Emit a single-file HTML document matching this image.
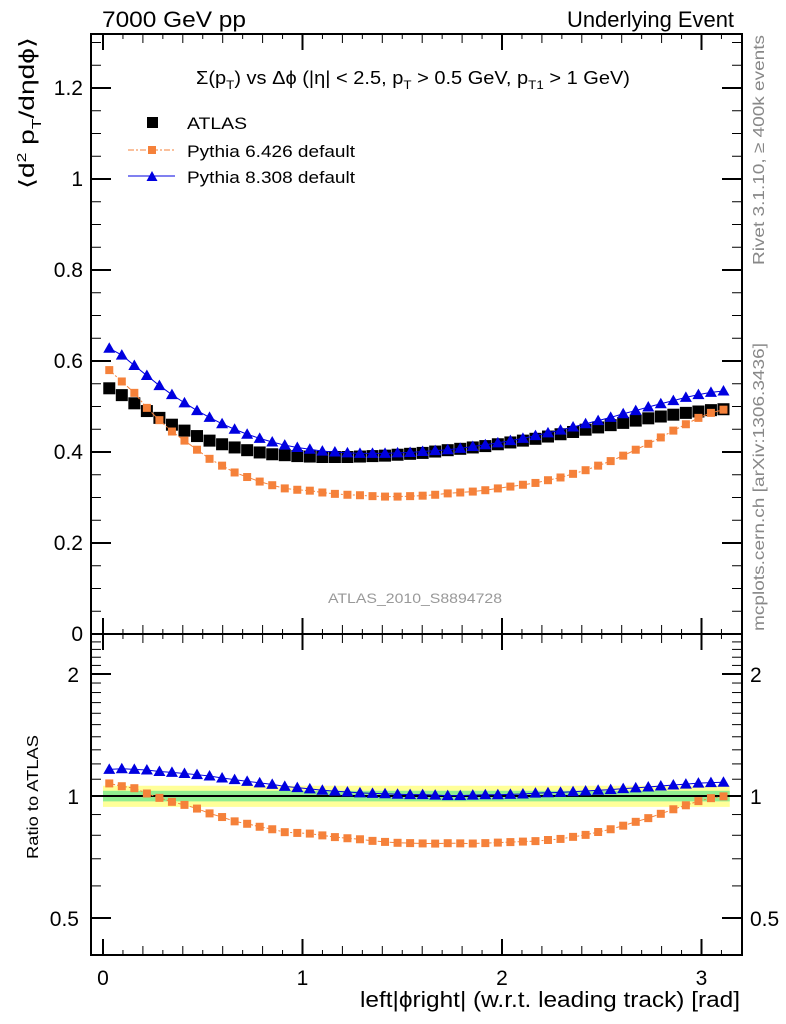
<!DOCTYPE html>
<html><head><meta charset="utf-8"><style>
html,body{margin:0;padding:0;background:#fff;}
svg{display:block;font-family:"Liberation Sans",sans-serif;}
</style></head><body>
<svg id="c" width="786" height="1024" viewBox="0 0 786 1024" xmlns="http://www.w3.org/2000/svg">
<text x="102" y="27" font-size="22" textLength="144" lengthAdjust="spacingAndGlyphs">7000 GeV pp</text>
<text x="567" y="27" font-size="22" textLength="167" lengthAdjust="spacingAndGlyphs">Underlying Event</text>
<text x="196" y="84" font-size="18" textLength="434" lengthAdjust="spacingAndGlyphs">Σ(p<tspan font-size="12" dy="5">T</tspan><tspan dy="-5">) vs Δϕ (|η| &lt; 2.5, p</tspan><tspan font-size="12" dy="5">T</tspan><tspan dy="-5"> &gt; 0.5 GeV, p</tspan><tspan font-size="12" dy="5">T1</tspan><tspan dy="-5"> &gt; 1 GeV)</tspan></text>
<text transform="translate(34,113) rotate(-90)" font-size="21" text-anchor="middle" textLength="152" lengthAdjust="spacingAndGlyphs">⟨d<tspan font-size="13" dy="-8">2</tspan><tspan dy="8"> p</tspan><tspan font-size="13" dy="7">T</tspan><tspan dy="-7">/dηdϕ⟩</tspan></text>
<text transform="translate(764,150) rotate(-90)" font-size="16" fill="#888" text-anchor="middle" textLength="230" lengthAdjust="spacingAndGlyphs">Rivet 3.1.10, ≥ 400k events</text>
<text transform="translate(764,487) rotate(-90)" font-size="16" fill="#888" text-anchor="middle" textLength="288" lengthAdjust="spacingAndGlyphs">mcplots.cern.ch [arXiv:1306.3436]</text>
<text x="415" y="603" font-size="14" fill="#999" text-anchor="middle" textLength="174" lengthAdjust="spacingAndGlyphs">ATLAS_2010_S8894728</text>
<text transform="translate(38,797) rotate(-90)" font-size="16" text-anchor="middle" textLength="124" lengthAdjust="spacingAndGlyphs">Ratio to ATLAS</text>
<text x="360" y="1007" font-size="22" textLength="380" lengthAdjust="spacingAndGlyphs">left|ϕright| (w.r.t. leading track) [rad]</text>
<g id="legend">
<rect x="147" y="117" width="11" height="11" fill="#000"/>
<text x="187" y="129" font-size="17" textLength="60" lengthAdjust="spacingAndGlyphs">ATLAS</text>
<line x1="128" y1="150" x2="175" y2="150" stroke="#f5813a" stroke-dasharray="6,2,2,2"/>
<rect x="148" y="146" width="8" height="8" fill="#f5813a"/>
<text x="187" y="157" font-size="17" textLength="168" lengthAdjust="spacingAndGlyphs">Pythia 6.426 default</text>
<line x1="128" y1="176" x2="175" y2="176" stroke="#0000e0"/>
<polygon points="146.5,181 157.5,181 152,171" fill="#0000e0"/>
<text x="187" y="183" font-size="17" textLength="168" lengthAdjust="spacingAndGlyphs">Pythia 8.308 default</text>
</g>
</svg>
<script>
const atlas=[0.54,0.525,0.507,0.49,0.475,0.46,0.447,0.435,0.425,0.417,0.41,0.404,0.399,0.395,0.393,0.391,0.39,0.389,0.389,0.389,0.39,0.391,0.392,0.394,0.396,0.398,0.401,0.404,0.407,0.41,0.413,0.417,0.421,0.425,0.429,0.434,0.439,0.444,0.449,0.454,0.459,0.464,0.469,0.474,0.478,0.482,0.486,0.489,0.492,0.494];
const py8=[0.628,0.613,0.59,0.568,0.546,0.526,0.508,0.491,0.476,0.462,0.45,0.439,0.43,0.422,0.415,0.41,0.406,0.402,0.4,0.398,0.397,0.397,0.397,0.398,0.399,0.401,0.403,0.405,0.408,0.412,0.416,0.42,0.425,0.43,0.436,0.442,0.448,0.455,0.462,0.469,0.476,0.484,0.491,0.499,0.506,0.513,0.52,0.526,0.531,0.534];
const py6=[0.58,0.555,0.53,0.497,0.47,0.445,0.425,0.405,0.385,0.37,0.355,0.345,0.335,0.327,0.32,0.317,0.315,0.311,0.308,0.306,0.305,0.303,0.302,0.302,0.303,0.304,0.306,0.309,0.311,0.313,0.316,0.32,0.324,0.328,0.332,0.338,0.344,0.352,0.36,0.37,0.38,0.392,0.405,0.418,0.432,0.447,0.461,0.475,0.486,0.493];
const yTicks=[0,0.2,0.4,0.6,0.8,1,1.2];
const yTickLabels=["0","0.2","0.4","0.6","0.8","1","1.2"];
const xTicks=[0,1,2,3];
const rTicks=[0.5,1,2];
const rTickLabels=["0.5","1","2"];
const bandOuter=0.06, bandInner=0.03;

const NS="http://www.w3.org/2000/svg";
const svg=document.getElementById('c');
const L=91,R=742,T=34,MB=634,RB=955;
const X=v=>103+v*199.5;
const Y=v=>634-v*455;
const RY=v=>796-Math.log2(v)*122;
const N=atlas.length, bw=Math.PI/N;
const xc=i=>(i+0.5)*bw;
function el(t,a,p){const e=document.createElementNS(NS,t);for(const k in a)e.setAttribute(k,a[k]);(p||svg).appendChild(e);return e;}

const b1=el('rect',{x:X(0),y:RY(1+bandOuter),width:X(Math.PI)-X(0),height:RY(1-bandOuter)-RY(1+bandOuter),fill:'#ffff99'});


const b2=el('rect',{x:X(0),y:RY(1+bandInner),width:X(Math.PI)-X(0),height:RY(1-bandInner)-RY(1+bandInner),fill:'#90ee90'});


const one=el('line',{x1:X(0),x2:X(Math.PI),y1:RY(1),y2:RY(1),stroke:'#000','stroke-width':2});



const f1=el('rect',{x:L,y:T,width:R-L,height:MB-T,fill:'none',stroke:'#000','stroke-width':2});


const f2=el('rect',{x:L,y:MB,width:R-L,height:RB-MB,fill:'none',stroke:'#000','stroke-width':2});



for(let k=0;k<=31;k++){const v=k/10;const x=X(v);const major=k%10===0;const len=major?16:(k%2===0?9:5);
 [[T,1],[MB,-1],[MB,1],[RB,-1]].forEach(([y0,d])=>{el('line',{x1:x,x2:x,y1:y0,y2:y0+d*len,stroke:'#000','stroke-width':major?2:1});});}
xTicks.forEach(v=>{const t=el('text',{x:X(v),y:985,'font-size':21,'text-anchor':'middle'});t.textContent=v;
 
 });
for(let k=0;k<=26;k++){const v=k*0.05;const y=Y(v);if(y<T)continue;const major=k%4===0;const len=major?20:10;
 el('line',{x1:L,x2:L+len,y1:y,y2:y,stroke:'#000','stroke-width':major?2:1});
 el('line',{x1:R,x2:R-len,y1:y,y2:y,stroke:'#000','stroke-width':major?2:1});}
yTicks.forEach((v,i)=>{const t=el('text',{x:83,y:Y(v)+7,'font-size':21,'text-anchor':'end'});t.textContent=yTickLabels[i];
 
 });
const rMinor=[0.5,0.6,0.7,0.8,0.9,1,1.1,1.2,1.3,1.4,1.5,1.6,1.7,1.8,1.9,2,2.1,2.2,2.3,2.4];
rMinor.forEach(v=>{const y=RY(v);const major=rTicks.includes(v);const len=major?20:10;
 el('line',{x1:L,x2:L+len,y1:y,y2:y,stroke:'#000','stroke-width':major?2:1});
 el('line',{x1:R,x2:R-len,y1:y,y2:y,stroke:'#000','stroke-width':major?2:1});});
rTicks.forEach((v,i)=>{const t=el('text',{x:79,y:RY(v)+8,'font-size':21,'text-anchor':'end'});t.textContent=rTickLabels[i];
 
 
 const t2=el('text',{x:750,y:RY(v)+8,'font-size':21});t2.textContent=rTickLabels[i];
 
 });

function series(vals,yf,kind,name){
 const g=el('g',{});
 
 
 const col=kind==='p8'?'#0000e0':kind==='p6'?'#f5813a':'#000';
 if(kind!=='atlas'){const pts=vals.map((v,i)=>X(xc(i))+','+yf(v,i)).join(' ');
  el('polyline',{points:pts,fill:'none',stroke:col,'stroke-width':1,'stroke-dasharray':kind==='p6'?'6,2,2,2':'none'},g);}
 vals.forEach((v,i)=>{const x=X(xc(i)),y=yf(v,i);let m;
  if(kind==='atlas')m=el('rect',{x:x-6,y:y-6,width:12,height:12,fill:'#000'},g);
  else if(kind==='p6')m=el('rect',{x:x-4,y:y-4,width:8,height:8,fill:col},g);
  else m=el('polygon',{points:`${x-6},${y+4.5} ${x+6},${y+4.5} ${x},${y-6}`,fill:col},g);
  
  });
}
series(atlas,v=>Y(v),'atlas','atlas-series');
series(py8,v=>Y(v),'p8','pythia8-series');
series(py6,v=>Y(v),'p6','pythia6-series');
series(py8,(v,i)=>RY(v/atlas[i]),'p8','pythia8-ratio');
series(py6,(v,i)=>RY(v/atlas[i]),'p6','pythia6-ratio');
</script>
</body></html>
